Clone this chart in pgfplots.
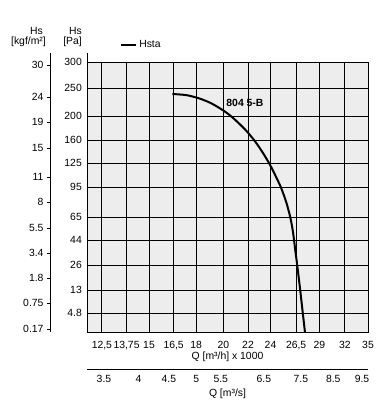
\documentclass[border=0pt]{standalone}
\usepackage{pgfplots}
\pgfplotsset{compat=1.18}
\usepackage{fontspec}
\setmainfont{Liberation Sans}
\definecolor{plotbg}{RGB}{236,237,236}
\newcommand{\fs}{\fontsize{10.4bp}{12bp}\selectfont}
\begin{document}
\begin{tikzpicture}
\path[use as bounding box] (0bp,0bp) rectangle (384bp,402bp);
\pgfplotsset{every axis/.append style={font=\fs,
  /pgf/number format/assume math mode=true}}
% kgf/m2 axis
\begin{axis}[at={(50bp,70bp)}, anchor=south west, scale only axis,
  width=37bp, height=279bp, xmin=0, xmax=1, ymin=0, ymax=279,
  axis x line=none, axis y line=left, axis line style={-, line width=0.9bp},
  ytick={3,29,54,79,104,130,155,184,210,235,267},
  yticklabels={0.17,0.75,1.8,3.4,5.5,8,11,15,19,24,30},
  tick align=outside, major tick length=3bp, tick style={line width=0.8bp, black}]
\addplot[draw=none] coordinates {(0.5,10)};
\end{axis}
% main axis
\begin{axis}[at={(87bp,70bp)}, anchor=south west, scale only axis,
  width=281bp, height=270bp,
  xmode=log, xmin=11.8, xmax=35, ymin=0, ymax=270,
  axis background/.style={fill=plotbg},
  axis line style={line width=0.9bp},
  grid=major, grid style={black, line width=0.9bp},
  major tick length=0pt,
  xtick={12.5,13.75,15,16.5,18,20,22,24,26.5,29,32,35},
  xticklabels={{12,5},{13,75},15,{16,5},18,20,22,24,{26,5},29,32,35},
  ytick={19,42,67,92,115,145,169,192,216,244,270},
  yticklabels={4.8,13,26,44,65,95,125,160,200,250,300},
  xticklabel style={yshift=-6bp},
  yticklabel style={xshift=-1.7bp},
  xlabel={Q [m³/h] x 1000},
  xlabel style={at={(axis description cs:0.5,0)}, anchor=center, yshift=-25bp},
  clip=false,
  legend style={at={(rel axis cs:0.117,1.063)}, anchor=west, draw=none, fill=none, inner sep=0pt},
  legend image code/.code={\draw[line width=2.2bp] (0bp,0bp) -- (15bp,0bp);},
]
\addplot[black, line width=2bp, smooth, tension=0.5] coordinates {
(16.42,238) (17.36,236.8) (18.30,233.2) (19.11,228.5) (20.02,221.3) (20.75,214.2)
(21.77,202.3) (22.62,190.4) (23.34,178.5) (23.98,166.6) (24.54,154.7) (25.01,144)
(25.50,130) (25.90,115) (26.18,100) (26.41,82) (26.61,67) (26.92,42)
(27.18,20) (27.42,0)};
\addlegendentry{Hsta}
\node[font=\fs\bfseries] at (axis cs:21.74,229.5) {804 5-B};
\draw[line width=0.9bp] (rel axis cs:0,1) -- (rel axis cs:0,1.033);
\end{axis}
% m3/s axis
\begin{axis}[at={(87bp,33bp)}, anchor=south west, scale only axis,
  width=281bp, height=1bp,
  xmode=log, xmin=3.27778, xmax=9.72222, ymin=0, ymax=1,
  axis x line=bottom, axis y line=none, axis line style={-, line width=0.9bp},
  major tick length=0pt,
  xtick={3.5,4,4.5,5,5.5,6.5,7.5,8.5,9.5},
  xticklabels={3.5,4,4.5,5,5.5,6.5,7.5,8.5,9.5},
  xticklabel style={yshift=-3bp},
  xlabel={Q [m³/s]},
  xlabel style={at={(axis description cs:0.5,0)}, anchor=center, yshift=-25bp}]
\addplot[draw=none] coordinates {(5,0.5)};
\end{axis}
\node[anchor=base east, inner sep=0pt, font=\fs] at (43bp,367bp) {Hs};
\node[anchor=base east, inner sep=0pt, font=\fs] at (46bp,357bp) {[kgf/m²]};
\node[anchor=base east, inner sep=0pt, font=\fs] at (82bp,367bp) {Hs};
\node[anchor=base east, inner sep=0pt, font=\fs] at (82bp,357bp) {[Pa]};
\end{tikzpicture}
\end{document}
